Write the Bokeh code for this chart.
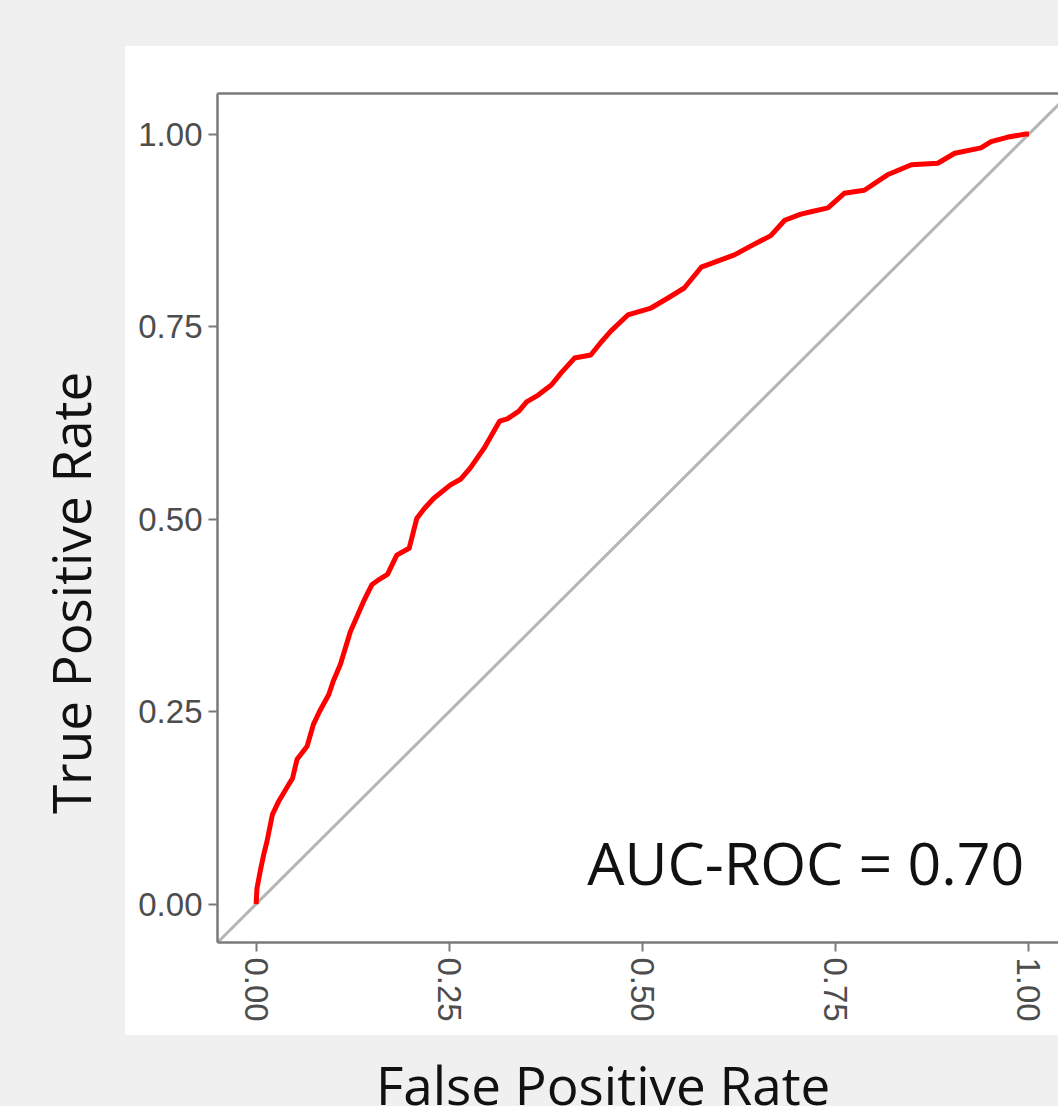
import math
from bokeh.plotting import figure
from bokeh.models import (FixedTicker, LinearAxis, Range1d, Label, Slope,
                          GlobalInlineStyleSheet)
from bokeh.embed import file_html
from bokeh.resources import INLINE

# ---- data ----
fpr = [0.000, 0.001, 0.006, 0.010, 0.014, 0.021, 0.029, 0.042, 0.047, 0.053,
       0.066, 0.074, 0.082, 0.094, 0.100, 0.109, 0.122, 0.130, 0.139, 0.150,
       0.160, 0.170, 0.182, 0.198, 0.208, 0.218, 0.230, 0.251, 0.265, 0.277,
       0.295, 0.315, 0.325, 0.340, 0.350, 0.365, 0.382, 0.395, 0.412, 0.433,
       0.445, 0.459, 0.481, 0.511, 0.533, 0.554, 0.576, 0.597, 0.619, 0.641,
       0.666, 0.684, 0.705, 0.718, 0.740, 0.761, 0.787, 0.817, 0.848, 0.882,
       0.904, 0.938, 0.951, 0.973, 0.996, 1.000]
tpr = [0.000, 0.020, 0.046, 0.065, 0.081, 0.116, 0.133, 0.155, 0.163, 0.188,
       0.205, 0.233, 0.250, 0.272, 0.290, 0.311, 0.354, 0.372, 0.393, 0.415,
       0.422, 0.428, 0.453, 0.462, 0.501, 0.514, 0.527, 0.544, 0.552, 0.566,
       0.592, 0.627, 0.630, 0.640, 0.652, 0.661, 0.674, 0.690, 0.709, 0.713,
       0.728, 0.744, 0.765, 0.774, 0.787, 0.800, 0.827, 0.835, 0.843, 0.855,
       0.868, 0.888, 0.896, 0.899, 0.904, 0.923, 0.927, 0.947, 0.960, 0.962,
       0.975, 0.982, 0.990, 0.996, 1.000, 1.000]
tick_values = [0.0, 0.25, 0.5, 0.75, 1.0]
tick_labels = ["0.00", "0.25", "0.50", "0.75", "1.00"]
auc_text = "AUC-ROC = 0.70"
x_title = "False Positive Rate"
y_title = "True Positive Rate"

AXIS_GRAY = "#7a7a7a"
TICK_TEXT = "#4d4d4d"
PAGE_GRAY = "#f0f0f0"

p = figure(width=1058, height=1106, output_backend="svg", toolbar_location=None,
           x_range=Range1d(-0.05, 1.0383), y_range=Range1d(-0.05, 1.0526),
           min_border_left=217, min_border_right=0, min_border_top=93,
           min_border_bottom=164, border_fill_alpha=0.0,
           background_fill_color="white", outline_line_color=None)
p.stylesheets = [GlobalInlineStyleSheet(
    css="html, body { background: %s; overflow: hidden; }" % PAGE_GRAY)]
# white panel behind the plot area and its tick labels
p.styles = {
    "background-color": PAGE_GRAY,
    "background-image": "linear-gradient(#ffffff, #ffffff)",
    "background-size": "933px 989px",
    "background-position": "125px 46px",
    "background-repeat": "no-repeat",
}
p.xgrid.visible = False
p.ygrid.visible = False

overrides = {v: s for v, s in zip(tick_values, tick_labels)}
for ax in (p.xaxis[0], p.yaxis[0]):
    ax.ticker = FixedTicker(ticks=tick_values)
    ax.major_label_overrides = overrides
    ax.axis_line_color = AXIS_GRAY
    ax.axis_line_width = 2.5
    ax.major_tick_line_color = AXIS_GRAY
    ax.major_tick_line_width = 2
    ax.major_tick_in = 0
    ax.major_tick_out = 9
    ax.minor_tick_line_color = None
    ax.major_label_text_font = "Liberation Sans"
    ax.major_label_text_font_size = "33px"
    ax.major_label_text_color = TICK_TEXT
    ax.major_label_standoff = 6
p.xaxis[0].major_label_orientation = "vertical"

top = LinearAxis(ticker=FixedTicker(ticks=[]), axis_line_color=AXIS_GRAY,
                 axis_line_width=2.5, major_tick_line_color=None,
                 minor_tick_line_color=None, major_tick_out=0)
p.add_layout(top, "above")

diag = Slope(gradient=1, y_intercept=0, line_color="#b5b5b5", line_width=3,
             level="underlay")
p.add_layout(diag)

p.line(fpr, tpr, line_color="#ff0000", line_width=5, line_join="round")

p.add_layout(Label(x=0.4285, y=0.0545, text=auc_text, text_font="Open Sans",
                   text_font_size="59px", text_color="#111111",
                   text_align="left", text_baseline="alphabetic"))
# axis titles placed in the side panels so they are not clipped to the frame
p.add_layout(Label(x=0.4490, y=-0.2349, text=x_title, text_font="Open Sans",
                   text_font_size="53px", text_color="#111111",
                   text_align="center", text_baseline="alphabetic"), "below")
p.add_layout(Label(x=-0.2406, y=0.4040, text=y_title, text_font="Open Sans",
                   text_font_size="53px", text_color="#111111",
                   angle=math.pi / 2, text_align="center",
                   text_baseline="alphabetic"), "left")

open("out.html", "w").write(file_html(p, INLINE))
